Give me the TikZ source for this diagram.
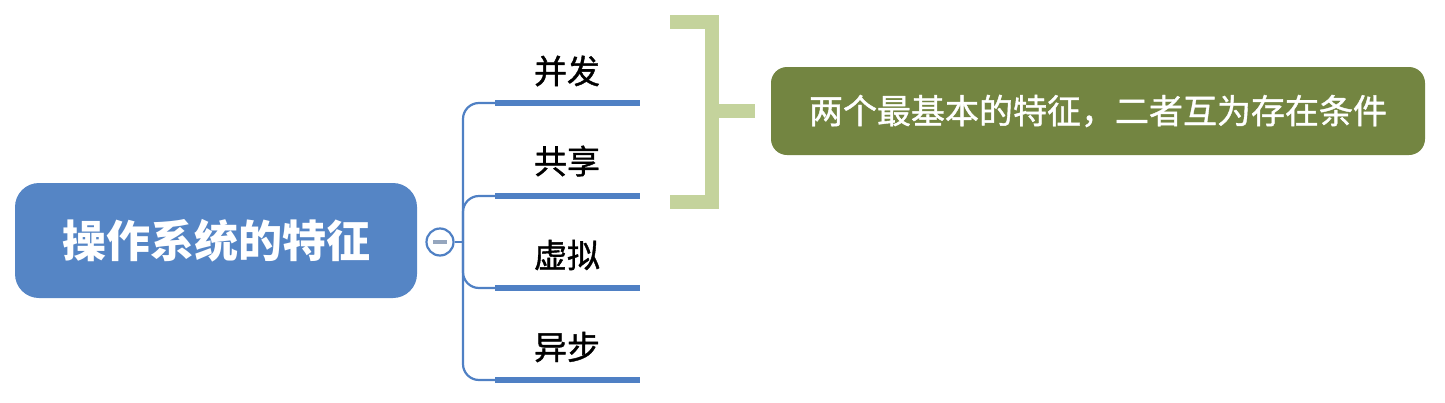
\documentclass[tikz,border=0pt]{standalone}
\usepackage{fontspec}
\setmainfont{Noto Sans CJK SC}
\newfontfamily\medfont{Noto Sans CJK SC}[FakeBold=1.2]
\usetikzlibrary{calc}
\definecolor{rootblue}{HTML}{5585C5}
\definecolor{lineblue}{HTML}{4F80C4}
\definecolor{bracketgreen}{HTML}{C4D39C}
\definecolor{noteolive}{HTML}{738541}
\tikzset{
% Node styles for the mind map: root, leaves, note and fold button
root node/.style={rectangle,rounded corners=12pt,fill=rootblue,text=white,font=\fontsize{22}{24}\selectfont\bfseries,minimum width=201pt,minimum height=57.5pt},
leaf node/.style={inner sep=0,font=\fontsize{16.5}{18}\selectfont\medfont},
note node/.style={rectangle,rounded corners=8pt,fill=noteolive,text=white,font=\fontsize{17}{19}\selectfont\medfont,minimum width=327pt,minimum height=44pt},
fold node/.style={circle,draw=lineblue,line width=1.1pt,fill=white,minimum size=13.5pt,inner sep=0},
branch/.style={draw=lineblue,line width=1.1pt,rounded corners=8pt},
underline/.style={draw=lineblue,line width=3.4pt}
}

\begin{document}
\begin{tikzpicture}[x=0.5pt,y=-0.5pt]
\useasboundingbox (0,0) rectangle (1445,402);
\node[root node] (R) at (216,240.5) {操作系统的特征};
\node[fold node] (F) at (440,242) {};
\draw[lineblue!50!gray!70,line width=1.6pt] ($(F)+(-7,0)$) -- ($(F)+(7,0)$);
\coordinate (H) at (463,242);

\node[leaf node] (A) at (567,71) {并发};
\node[leaf node] (B) at (567,161) {共享};
\node[leaf node] (C) at (567,255) {虚拟};
\node[leaf node] (D) at (567,347) {异步};
\coordinate (A0) at (495,103); \coordinate (A1) at (640,103);
\coordinate (B0) at (495,196); \coordinate (B1) at (640,196);
\coordinate (C0) at (495,288); \coordinate (C1) at (640,288);
\coordinate (D0) at (495,380); \coordinate (D1) at (640,380);

\path[branch] (F) -- (H);
\path[branch] (H) |- (A0);
\path[branch] (H) |- (B0);
\path[branch] (H) |- (C0);
\path[branch] (H) |- (D0);
\path[underline] (A0) -- (A1);
\path[underline] (B0) -- (B1);
\path[underline] (C0) -- (C1);
\path[underline] (D0) -- (D1);

\node[note node] (N) at (1098,111) {两个最基本的特征，二者互为存在条件};
\coordinate (K) at (712,111);
\draw[bracketgreen,line width=7pt] (670,22) -- (712,22) -- (712,202) -- (670,202);
\draw[bracketgreen,line width=7pt] (K) -- ($(K -| N.west)+(-16,0)$);
\end{tikzpicture}
\end{document}
